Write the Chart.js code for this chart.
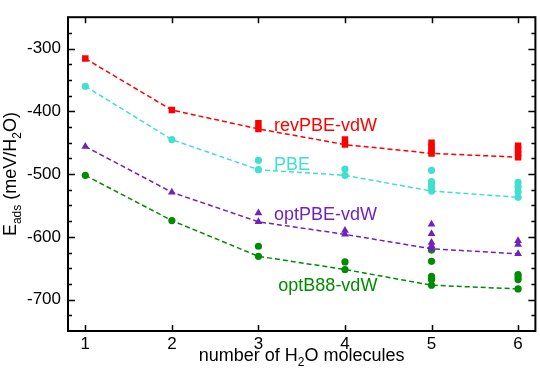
<!DOCTYPE html>
<html>
<head>
<meta charset="utf-8">
<script src="https://cdn.jsdelivr.net/npm/chart.js@4"></script>
<style>
  body { margin: 0; background: #fff; }
</style>
</head>
<body>
<canvas id="c" width="540" height="377"></canvas>
<script>
// number of water molecules
var nWater = [1, 2, 3, 4, 5, 6];
var xTicks = [1, 2, 3, 4, 5, 6];
var yTicks = [-700, -600, -500, -400, -300];

// lowest E_ads per cluster size (dashed lines)
var revPBE = [-316, -398, -428, -453, -467, -473];
var pbe    = [-360, -445, -493, -502, -527, -537];
var optPBE = [-456, -529, -576, -596, -619, -627];
var optB88 = [-502, -574, -631, -652, -677, -683];

// other configurations
var revPBEExtraX = [3, 4, 5, 5, 5, 6, 6, 6];
var revPBEExtraY = [-419, -445, -450, -456, -462, -455, -461, -467];
var pbeExtraX = [3, 4, 5, 5, 5, 5, 6, 6, 6];
var pbeExtraY = [-478, -492, -494, -512, -517, -522, -513, -520, -528];
var optPBEExtraX = [3, 4, 5, 5, 5, 5, 6, 6];
var optPBEExtraY = [-562, -590, -580, -595, -609, -614, -606, -612];
var optB88ExtraX = [3, 4, 5, 5, 5, 5, 6, 6, 6];
var optB88ExtraY = [-615, -640, -621, -639, -663, -668, -660, -664, -668];

var labelNames = ['revPBE-vdW', 'PBE', 'optPBE-vdW', 'optB88-vdW'];
var labelX = [3.18, 3.18, 3.18, 3.23];
var labelY = [-431, -494, -573, -687];

var RED = 'rgb(255,0,0)';
var TURQ = 'rgb(64,224,208)';
var INDIGO = 'rgb(114,33,188)';
var GREEN = 'rgb(0,139,0)';
var labelColors = [RED, TURQ, INDIGO, GREEN];

var FONT = "'Liberation Sans', Arial, sans-serif";
Chart.defaults.font.family = FONT;
Chart.defaults.color = '#000';

function pts(xs, ys) {
    return xs.map(function (x, i) { return { x: x, y: ys[i] }; });
}

function lineSet(ys, color, style, r) {
    return {
        data: pts(nWater, ys),
        borderColor: color,
        backgroundColor: color,
        borderWidth: 1.5,
        borderDash: [5, 3],
        pointStyle: style,
        pointRadius: r,
        pointBorderWidth: 0,
        tension: 0
    };
}

function extraSet(xs, ys, color, style, r) {
    return {
        data: pts(xs, ys),
        showLine: false,
        borderColor: color,
        backgroundColor: color,
        pointStyle: style,
        pointRadius: r,
        pointBorderWidth: 0
    };
}

// draws a string with subscript parts; segs = [[text, isSub], ...]
function richText(ctx, segs, size, subSize, subDrop) {
    var total = 0;
    segs.forEach(function (s) {
        ctx.font = (s[1] ? subSize : size) + 'px ' + FONT;
        total += ctx.measureText(s[0]).width;
    });
    var x = -total / 2;
    segs.forEach(function (s) {
        ctx.font = (s[1] ? subSize : size) + 'px ' + FONT;
        ctx.fillText(s[0], x, s[1] ? subDrop : 0);
        x += ctx.measureText(s[0]).width;
    });
}

var framePlugin = {
    id: 'frame',
    afterDraw: function (chart) {
        var ctx = chart.ctx;
        var a = chart.chartArea;
        var xs = chart.scales.x, ys = chart.scales.y;
        ctx.save();
        ctx.strokeStyle = '#000';

        // inward ticks
        ctx.lineWidth = 1.5;
        ctx.beginPath();
        xTicks.forEach(function (v) {
            var px = Math.round(xs.getPixelForValue(v)) + 0.5;
            ctx.moveTo(px, a.bottom); ctx.lineTo(px, a.bottom - 6);
            ctx.moveTo(px, a.top); ctx.lineTo(px, a.top + 6);
        });
        for (var v = -725; v <= -275; v += 25) {
            var py = Math.round(ys.getPixelForValue(v)) + 0.5;
            var len = (v % 100 === 0) ? 7 : 4;
            ctx.moveTo(a.left, py); ctx.lineTo(a.left + len, py);
            ctx.moveTo(a.right, py); ctx.lineTo(a.right - len, py);
        }
        ctx.stroke();

        // box
        ctx.lineWidth = 2;
        ctx.strokeRect(a.left, a.top, a.right - a.left, a.bottom - a.top);

        // series labels
        ctx.textAlign = 'left';
        ctx.textBaseline = 'alphabetic';
        ctx.font = '18px ' + FONT;
        labelNames.forEach(function (t, i) {
            ctx.fillStyle = labelColors[i];
            ctx.fillText(t, xs.getPixelForValue(labelX[i]), ys.getPixelForValue(labelY[i]));
        });

        // axis titles
        ctx.fillStyle = '#000';
        ctx.save();
        ctx.translate((a.left + a.right) / 2, 361);
        richText(ctx, [['number of H', false], ['2', true], ['O molecules', false]], 18, 12, 5);
        ctx.restore();

        ctx.save();
        ctx.translate(16, (a.top + a.bottom) / 2);
        ctx.rotate(-Math.PI / 2);
        richText(ctx, [['E', false], ['ads', true], [' (meV/H', false], ['2', true], ['O)', false]], 18, 12, 5);
        ctx.restore();

        ctx.restore();
    }
};

new Chart(document.getElementById('c'), {
    type: 'line',
    data: {
        datasets: [
            lineSet(revPBE, RED, 'rect', 4.6),
            extraSet(revPBEExtraX, revPBEExtraY, RED, 'rect', 4.6),
            lineSet(pbe, TURQ, 'circle', 3.6),
            extraSet(pbeExtraX, pbeExtraY, TURQ, 'circle', 3.6),
            lineSet(optPBE, INDIGO, 'triangle', 4.5),
            extraSet(optPBEExtraX, optPBEExtraY, INDIGO, 'triangle', 4.5),
            lineSet(optB88, GREEN, 'circle', 3.6),
            extraSet(optB88ExtraX, optB88ExtraY, GREEN, 'circle', 3.6)
        ]
    },
    options: {
        responsive: false,
        animation: false,
        devicePixelRatio: 1,
        layout: { padding: { top: 3, right: 3, left: 0, bottom: 0 } },
        plugins: {
            legend: { display: false },
            tooltip: { enabled: false }
        },
        scales: {
            x: {
                type: 'linear',
                min: 0.8,
                max: 6.2,
                grid: { display: false, drawTicks: false },
                border: { display: false },
                afterBuildTicks: function (s) {
                    s.ticks = xTicks.map(function (v) { return { value: v }; });
                },
                afterFit: function (s) { s.height = 46; },
                ticks: { font: { size: 17 }, padding: 3, color: '#000' }
            },
            y: {
                type: 'linear',
                min: -750,
                max: -250,
                grid: { display: false, drawTicks: false },
                border: { display: false },
                afterBuildTicks: function (s) {
                    s.ticks = yTicks.map(function (v) { return { value: v }; });
                },
                afterFit: function (s) { s.width = 68; },
                ticks: { font: { size: 17 }, padding: 7, color: '#000' }
            }
        }
    },
    plugins: [framePlugin]
});
</script>
</body>
</html>
